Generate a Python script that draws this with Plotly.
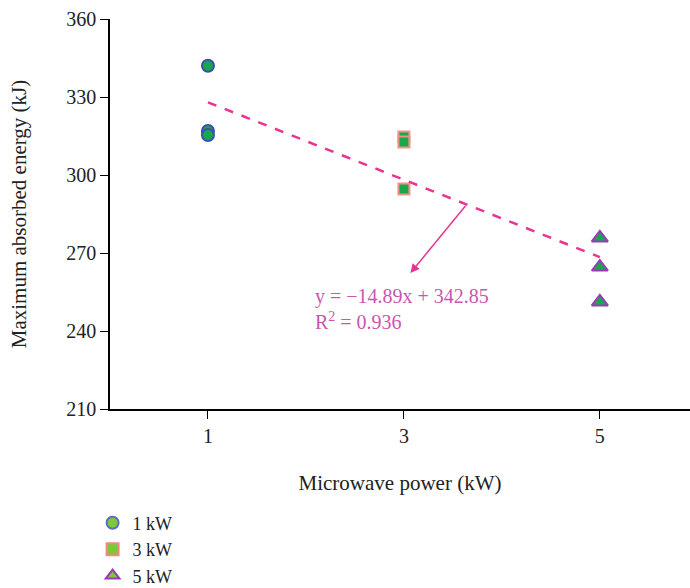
import plotly.graph_objects as go

power_1 = [1, 1, 1]
energy_1 = [342.0, 316.9, 315.4]
power_3 = [3, 3, 3]
energy_3 = [314.6, 312.7, 294.6]
power_5 = [5, 5, 5]
energy_5 = [275.8, 264.6, 251.2]
slope, intercept = -14.89, 342.85
fit_x = [1, 5]
labels = ["1 kW", "3 kW", "5 kW"]

FONT = "Liberation Serif"
fig = go.Figure()

fig.add_trace(go.Scatter(x=power_1, y=energy_1, mode="markers", showlegend=False,
    marker=dict(symbol="circle", size=12, color="#16a84a", line=dict(color="#3d4eb0", width=2))))
fig.add_trace(go.Scatter(x=power_3, y=energy_3, mode="markers", showlegend=False,
    marker=dict(symbol="square", size=11, color="#16a84a", line=dict(color="#f2918a", width=2))))
fig.add_trace(go.Scatter(x=power_5, y=energy_5, mode="markers", showlegend=False,
    marker=dict(symbol="triangle-up", size=14, color="#16a84a", line=dict(color="#9a3ab8", width=2))))

fig.add_trace(go.Scatter(x=fit_x, y=[slope * v + intercept for v in fit_x], mode="lines",
    showlegend=False, line=dict(color="#e8358f", width=2.5, dash="dash")))

# legend-only entries
for lab, sym, edge, sz in zip(labels, ["circle", "square", "triangle-up"],
                              ["#5a6fc0", "#f08a80", "#9a3ab8"], [12, 11, 13]):
    fig.add_trace(go.Scatter(x=[None], y=[None], mode="markers", name=lab,
        marker=dict(symbol=sym, size=sz, color="#7cc83a", line=dict(color=edge, width=1.5))))

xa = 3.64
fig.add_annotation(x=3.066, y=262.3, ax=xa, ay=slope * xa + intercept, xref="x", yref="y",
    axref="x", ayref="y", text="", showarrow=True, arrowhead=2, arrowsize=1.2,
    arrowwidth=1.5, arrowcolor="#e8358f")
fig.add_annotation(x=2.07, y=248.5, xref="x", yref="y", xanchor="left", yanchor="middle",
    showarrow=False, align="left",
    text=f"y = \u2212{abs(slope):.2f}x + {intercept:.2f}<br>R<sup>2</sup> = 0.936",
    font=dict(family=FONT, size=20, color="#cc55b0"))

fig.update_layout(
    width=690, height=588,
    margin=dict(l=110, r=0, t=19, b=179, autoexpand=False),
    plot_bgcolor="white", paper_bgcolor="white",
    font=dict(family=FONT, size=20, color="#222"),
    showlegend=True,
    legend=dict(x=-0.03, y=-0.245, xanchor="left", yanchor="top",
                font=dict(family=FONT, size=18, color="#222"), itemsizing="constant",
                tracegroupgap=0),
    xaxis=dict(range=[0.0, 5.92], tickvals=[1, 3, 5], showgrid=False, zeroline=False,
               showline=True, linecolor="black", linewidth=1.5, ticks="outside",
               ticklen=8, tickcolor="black", tickfont=dict(size=20),
               title=dict(text="Microwave power (kW)", standoff=30, font=dict(size=21))),
    yaxis=dict(range=[210, 360], tickvals=[210, 240, 270, 300, 330, 360], showgrid=False,
               zeroline=False, showline=True, linecolor="black", linewidth=1.5,
               ticks="outside", ticklen=8, tickcolor="black", tickfont=dict(size=20),
               title=dict(text="Maximum absorbed energy (kJ)", standoff=34, font=dict(size=21))),
)
fig.write_html("out.html")
